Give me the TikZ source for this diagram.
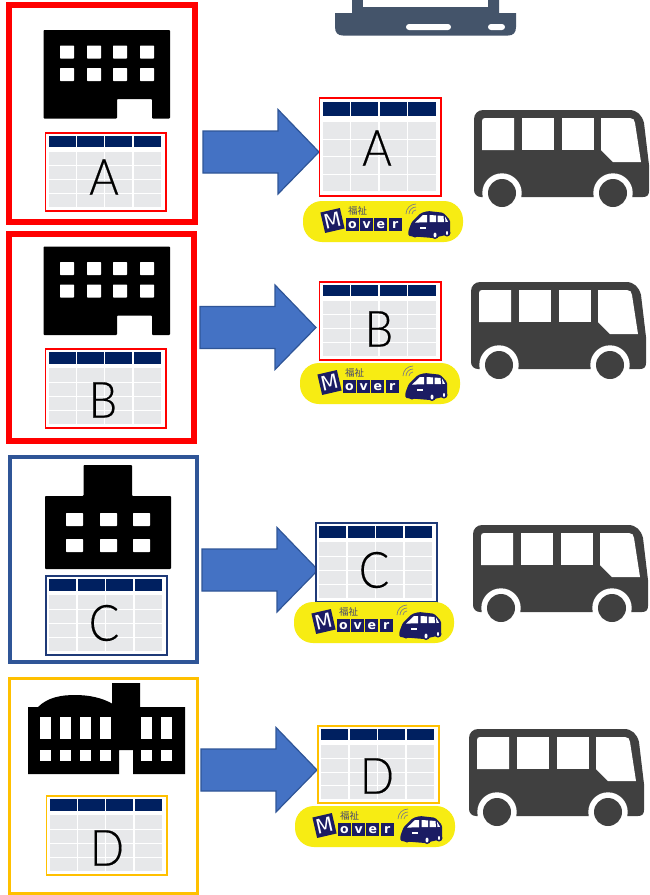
\documentclass[tikz,border=0pt]{standalone}
\usepackage{fontspec}
\newfontfamily\letterfont[UprightFont={* Light},FakeStretch=0.9,FakeBold=0.3]{Lato}
\newfontfamily\badgefont{DejaVu Sans}
\newfontfamily\cjkfont{Noto Sans CJK JP}
\definecolor{navyhead}{HTML}{002060}
\definecolor{cellgrey}{HTML}{E7E8EA}
\definecolor{framered}{HTML}{FF0000}
\definecolor{frameblue}{HTML}{2F5597}
\definecolor{framegold}{HTML}{FFC000}
\definecolor{tblnavy}{HTML}{1F3A78}
\definecolor{arrowfill}{HTML}{4472C4}
\definecolor{busgrey}{HTML}{404040}
\definecolor{laptop}{HTML}{44546A}
\definecolor{badgeyellow}{HTML}{F7EC13}
\definecolor{badgenavy}{HTML}{1B1C63}
\tikzset{
  tablecell/.style={fill=cellgrey,draw=none},
  tablehead/.style={fill=navyhead,draw=none},
  tableletter/.style={inner sep=0pt,font=\letterfont\fontsize{50}{50}\selectfont},
  blockarrow/.style={fill=arrowfill,draw=frameblue,line width=1.2pt,line join=miter},
  bldg/.style={fill=black,draw=none,rounded corners=.8pt},
  win/.style={fill=white,draw=none,rounded corners=.6pt},
  sqwin/.style={fill=white,draw=none},
}
% x0 y0 x1 y1 colour name letter cx cy
\newcommand{\datatable}[9]{%
  \pgfmathsetmacro{\tw}{#3-#1}\pgfmathsetmacro{\tht}{#4-#2}
  \pgfmathsetmacro{\cw}{(\tw*0.93-3.9)/4}
  \pgfmathsetmacro{\hb}{#2+\tht*0.185}
  \pgfmathsetmacro{\bt}{#2+\tht*0.245}
  \pgfmathsetmacro{\rh}{(\tht*0.705-3)/4}
  \fill[white] (#1,#2) rectangle (#3,#4);
  \foreach \i in {0,1,2,3}{
    \pgfmathsetmacro{\xa}{#1+3.2+\i*(\cw+1.3)}
    \pgfmathsetmacro{\ya}{#2+\tht*0.04}
    \fill[tablehead] (\xa,\ya) rectangle ({\xa+\cw},\hb);
    \foreach \j in {0,1,2,3}{
      \pgfmathsetmacro{\yb}{\bt+\j*(\rh+1)}
      \fill[tablecell] (\xa,\yb) rectangle ({\xa+\cw},{\yb+\rh});
    }
  }
  \draw[#5,line width=1.4pt] (#1,#2) rectangle (#3,#4);
  \node[tableletter] (#6) at (#8,#9) {#7};
}
\newcommand{\bigarrow}[2]{%
  \begin{scope}[shift={(#1,#2)}]
    \draw[blockarrow] (0,0) -- (75,0) -- (75,-21.5) -- (116,21) -- (75,63) -- (75,42) -- (0,42) -- cycle;
  \end{scope}
}
\newcommand{\busicon}[2]{%
  \begin{scope}[shift={(#1,#2)}]
    \fill[busgrey] (9,0) -- (155,0) .. controls (163,0) and (168,5) .. (170,13) -- (175,55) -- (175,81) .. controls (175,85) and (173,87) .. (169,87) -- (7,87) .. controls (3,87) and (0,84) .. (0,80) -- (0,9) .. controls (0,4) and (4,0) .. (9,0) -- cycle;
    \fill[white] (28,83) circle[radius=19.7pt] (139,83) circle[radius=19.7pt];
    \fill[white] (8,11) .. controls (8,9) and (9,8) .. (11,8) -- (40,8) -- (40,40) -- (8,40) -- cycle;
    \fill[white] (48,8) rectangle (80,40);
    \fill[white] (88,8) rectangle (120,40);
    \fill[white] (127,8) -- (156,8) .. controls (159,8) and (161,10) .. (161,13) -- (167,52) -- (139,52) -- (127,40) -- cycle;
    \fill[busgrey] (28,83) circle[radius=14pt] (139,83) circle[radius=14pt];
  \end{scope}
}
\newcommand{\moverbadge}[3]{%
  \begin{scope}[shift={(#1,#2)}]
    \fill[badgeyellow,rounded corners=19pt] (0,0) rectangle (160,41);
    \node[fill=badgenavy,rotate=13,minimum width=20pt,minimum height=21pt,inner sep=0pt,text=white,font=\badgefont\fontsize{20}{20}\selectfont] (m#3) at (29.5,19.5) {M};
    \foreach \ch [count=\k from 0] in {o,v,e,r}{
      \node[fill=badgenavy,minimum width=13pt,minimum height=12.7pt,inner sep=0pt,text=white,font=\badgefont\bfseries\fontsize{12.5}{12.5}\selectfont] (l#3\k) at ({49.5+\k*14.2},23.6) {\ch};
    }
    \node[inner sep=0pt,text=badgenavy!60!gray,font=\cjkfont\fontsize{9.5}{9.5}\selectfont] (f#3) at (54.7,9.7) {福祉};
    \foreach \r in {4,7,10}{
      \draw[gray,line width=.7pt] ({113-\r},13) .. controls ({113-\r},{13-.55*\r}) and ({113-.55*\r},{13-\r}) .. (113,{13-\r});
    }
    \fill[badgenavy,rounded corners=1.5pt] (105.3,35) -- (105.3,30) -- (108.7,21) -- (118,12) -- (125,10) -- (140.3,11.7) -- (147,19) -- (147,33) -- (130,37) -- cycle;
    \fill[white] (112,21.6) -- (120,14) -- (124,14) -- (124,21.3) -- cycle;
    \fill[white] (126.5,14) -- (133,14.4) -- (133,21) -- (126.5,21) -- cycle;
    \fill[white] (134.5,14.5) -- (140.5,15) -- (141,21) -- (134.5,21) -- cycle;
    \fill[white] (142,15.5) -- (145,20.8) -- (142.5,21) -- cycle;
    \fill[white] (117,26) rectangle (123,28);
    \fill[badgenavy] (112,33) circle[radius=3.5pt] (132,34) circle[radius=4pt] (144,32) circle[radius=3.5pt];
    \fill[white] (132,34) ellipse[x radius=1.5pt,y radius=2.5pt];
    \fill[white] (144,32) ellipse[x radius=1pt,y radius=2pt];
  \end{scope}
}
\newcommand{\officeicon}[1]{%
  \begin{scope}[shift={(0,#1)}]
    \fill[bldg] (43.5,30) -- (170,30) -- (170,118.5) -- (152,118.5) -- (152,99) -- (117,99) -- (117,118.5) -- (43.5,118.5) -- cycle;
    \foreach \xx in {60,87,113,140}{
      \fill[win] (\xx,45.5) rectangle ++(14,13);
      \fill[win] (\xx,68) rectangle ++(14,13);
    }
  \end{scope}
}
\begin{document}
\begin{tikzpicture}[x=1pt,y=-1pt]
\useasboundingbox (0,0) rectangle (649,895);
\fill[white] (0,0) rectangle (649,895);
% laptop
\fill[laptop] (352,0) -- (499,0) -- (499,13) -- (516,13) -- (516,27) .. controls (516,33) and (513,35.5) .. (508,35.5) -- (343,35.5) .. controls (338,35.5) and (335,33) .. (335,27) -- (335,13) -- (352,13) -- cycle;
\fill[white] (363,0) rectangle (488,7);
\fill[white,rounded corners=3pt] (406,24) rectangle (451,30);
\fill[white,rounded corners=3pt] (488,24) rectangle (505,30);
% frames
\draw[framered,line width=6pt] (9.3,5) rectangle (195,222);
\draw[framered,line width=6pt] (9.3,234) rectangle (194,441);
\draw[frameblue,line width=4pt] (10,457) rectangle (197,662);
\draw[framegold,line width=3pt] (9.5,678.5) rectangle (197.5,893);
% buildings
\officeicon{0}
\officeicon{216.5}
\fill[bldg] (45,496) -- (83.5,496) -- (83.5,465) -- (132,465) -- (132,496) -- (171,496) -- (171,569) -- (45,569) -- cycle;
\foreach \xx in {66,100,133}{
  \fill[win] (\xx,513) rectangle ++(17,13);
  \fill[win] (\xx,539) rectangle ++(17,13);
}
\fill[black] (28,707) -- (38,707) .. controls (48,697) and (62,695) .. (75,695) .. controls (90,695) and (102,698) .. (112,703.5) -- (112,683) -- (140,683) -- (140,707) -- (185,707) -- (185,774) -- (133,774) -- (133,750) -- (119,750) -- (119,774) -- (28,774) -- cycle;
\foreach \xx in {40,60,80,100,141,161}{
  \fill[sqwin] (\xx,717) rectangle ++(11,22);
  \fill[sqwin] (\xx,750) rectangle ++(11,11);
}
% small tables
\datatable{45.5}{133}{166}{211}{framered}{sa}{A}{104}{177}
\datatable{45.5}{349}{166}{428}{framered}{sb}{B}{103}{400}
\datatable{46}{576}{167}{655}{tblnavy}{sc}{C}{104}{623}
\datatable{46.5}{796}{167}{875}{framegold}{sd}{D}{107}{848}
% arrows
\bigarrow{203}{131}
\bigarrow{200}{306.5}
\bigarrow{202}{549}
\bigarrow{201}{749}
% large tables
\datatable{319.3}{98}{441}{196}{framered}{ba}{A}{377}{148}
\datatable{319.3}{282}{441}{360}{framered}{bb}{B}{379}{329}
\datatable{316}{523}{437}{602}{tblnavy}{bc}{C}{374}{570}
\datatable{318}{726}{439}{803}{framegold}{bd}{D}{377}{776}
% badges
\moverbadge{303}{201}{a}
\moverbadge{300}{363}{b}
\moverbadge{294}{602}{c}
\moverbadge{295}{806}{d}
% buses
\busicon{474}{110}
\busicon{471}{282}
\busicon{473}{525}
\busicon{469}{729}
\end{tikzpicture}
\end{document}
